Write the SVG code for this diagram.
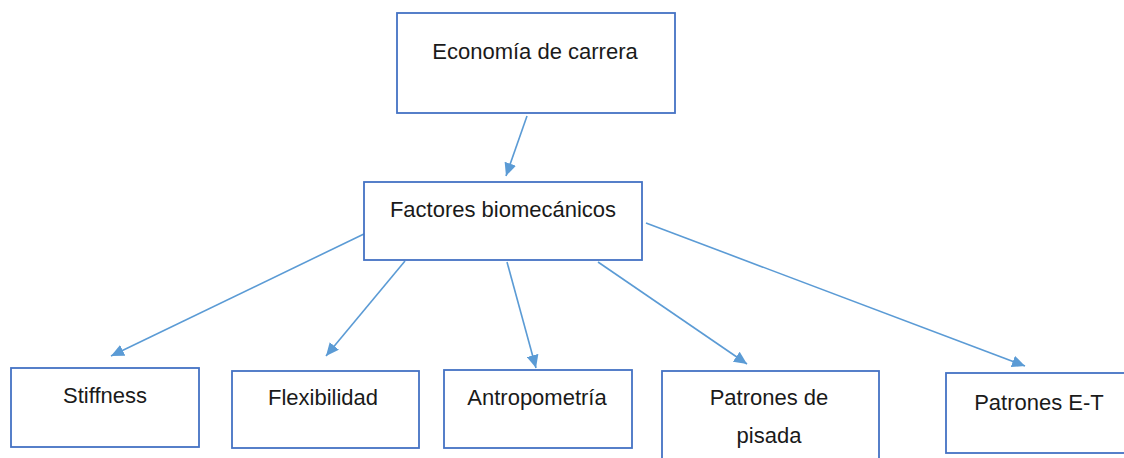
<svg xmlns="http://www.w3.org/2000/svg" width="1124" height="458" viewBox="0 0 1124 458">
<style>
.box{fill:#ffffff;stroke:#4472C4;stroke-width:1.8}
.lbl{font-family:"Liberation Sans",Arial,sans-serif;font-size:22px;fill:#1a1a1a;text-anchor:middle}
.conn{stroke:#5B9BD5;stroke-width:1.6;fill:none}
</style>
<defs>
<marker id="arr" markerUnits="userSpaceOnUse" markerWidth="14" markerHeight="12" refX="13" refY="6" orient="auto">
<path d="M0,0 L13,6 L0,12 z" fill="#5B9BD5"/>
</marker>
</defs>
<rect width="1124" height="458" fill="#ffffff"/>
<g id="connectors">
<line class="conn" x1="527" y1="116" x2="506" y2="176" marker-end="url(#arr)"/>
<line class="conn" x1="366" y1="233" x2="111" y2="356" marker-end="url(#arr)"/>
<line class="conn" x1="405" y1="261" x2="326" y2="356" marker-end="url(#arr)"/>
<line class="conn" x1="507" y1="262" x2="536" y2="368" marker-end="url(#arr)"/>
<line class="conn" x1="598" y1="262" x2="747" y2="364" marker-end="url(#arr)"/>
<line class="conn" x1="646" y1="223" x2="1025" y2="366" marker-end="url(#arr)"/>
</g>
<g id="economia">
<rect class="box" x="397" y="13" width="278" height="100"/>
<text class="lbl" x="535" y="59">Economía de carrera</text>
</g>
<g id="factores">
<rect class="box" x="364" y="182" width="278" height="78"/>
<text class="lbl" x="503" y="217">Factores biomecánicos</text>
</g>
<g id="stiffness">
<rect class="box" x="11" y="368" width="188" height="79"/>
<text class="lbl" x="105" y="403">Stiffness</text>
</g>
<g id="flexibilidad">
<rect class="box" x="232" y="371" width="187" height="77"/>
<text class="lbl" x="323" y="405">Flexibilidad</text>
</g>
<g id="antropometria">
<rect class="box" x="444" y="370" width="188" height="78"/>
<text class="lbl" x="537" y="405">Antropometría</text>
</g>
<g id="patrones-pisada">
<rect class="box" x="662" y="371" width="217" height="100"/>
<text class="lbl" x="769" y="405">Patrones de</text>
<text class="lbl" x="769" y="443">pisada</text>
</g>
<g id="patrones-et">
<rect class="box" x="946" y="373" width="200" height="80"/>
<text class="lbl" x="1039" y="410">Patrones E-T</text>
</g>
</svg>
